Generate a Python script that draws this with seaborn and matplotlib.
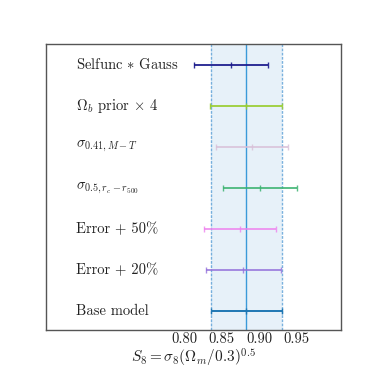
import matplotlib
matplotlib.use('Agg')
import matplotlib.pyplot as plt
import matplotlib.transforms as mtransforms
import seaborn as sns

# S8 constraints for each model variant (top to bottom as drawn)
labels = [r'Selfunc $\ast$ Gauss', r'$\Omega_b$ prior $\times$ 4', r'$\sigma_{0.41,M-T}$',
          r'$\sigma_{0.5,r_c-r_{500}}$', r'Error + 50%', r'Error + 20%', 'Base model']
s8_center = [0.862, 0.882, 0.890, 0.901, 0.874, 0.879, 0.883]
s8_err = [0.049, 0.048, 0.048, 0.049, 0.048, 0.050, 0.047]
colors = ['#1a1a8c', '#9acd32', '#d8bfd8', '#3cb371', '#ee82ee', '#9370db', '#1f77b4']
alphas = [0.9, 0.9, 0.8, 0.85, 0.8, 0.8, 1.0]

base_center = 0.883
base_err = 0.047
xticks = [0.80, 0.85, 0.90, 0.95]

sns.set_theme(style='white')
plt.rcParams['font.family'] = ['serif']
plt.rcParams['font.serif'] = ['cmr10', 'DejaVu Serif']
plt.rcParams['mathtext.fontset'] = 'cm'
plt.rcParams['axes.formatter.use_mathtext'] = True

fig = plt.figure(figsize=(3.74, 3.74), dpi=100)
ax = fig.add_axes([0.123, 0.118, 0.789, 0.764])

n = len(labels)
ypos = list(range(n - 1, -1, -1))

# shaded base-model band
ax.axvspan(base_center - base_err, base_center + base_err, color='#3a8fd0', alpha=0.12, lw=0)
for xv in (base_center - base_err, base_center + base_err):
    ax.axvline(xv, color='#5a9fd6', lw=1.0, ls=(0, (2, 1)), alpha=0.8)
ax.axvline(base_center, color='#3a9ad9', lw=1.0)

for y, c, e, col, a in zip(ypos, s8_center, s8_err, colors, alphas):
    ax.errorbar(c, y, xerr=e, fmt='|', color=col, ecolor=col, alpha=a,
                elinewidth=1.4, capsize=2, capthick=1.0, markersize=4, mew=1.0)

trans = mtransforms.blended_transform_factory(ax.transAxes, ax.transData)
for y, lab in zip(ypos, labels):
    ax.text(0.10, y, lab, transform=trans, ha='left', va='center', fontsize=10.5,
            color='#222222')

ax.set_xlim(0.616, 1.009)
ax.set_ylim(-0.45, 6.5)
ax.set_yticks([])
ax.set_xticks(xticks)
ax.set_xticklabels(['%.2f' % t for t in xticks], fontsize=10.5, color='#222222')
ax.tick_params(axis='x', length=0, pad=2)
ax.set_xlabel(r'$S_8 = \sigma_8(\Omega_m/0.3)^{0.5}$', fontsize=11, labelpad=0,
              color='#222222')
for sp in ax.spines.values():
    sp.set_color('#555555')
    sp.set_linewidth(1.0)

fig.savefig('out.png', dpi=100)
